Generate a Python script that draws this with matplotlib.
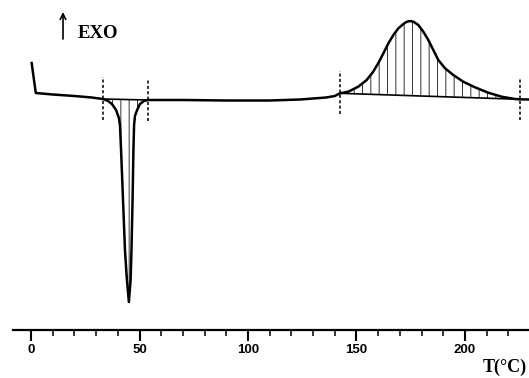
import numpy as np
import matplotlib
matplotlib.use("agg")
import matplotlib.pyplot as plt
from matplotlib.ticker import MultipleLocator

# DSC trace (temperature in °C, heat flow in arbitrary units, exo up)
temp = [0.3, 2.2, 10, 20, 28, 33.2,
        35.5, 37.3, 39.2, 40.5, 41.0, 41.5, 42.4, 43.3, 44.2, 45.1,
        45.9, 46.3, 46.8, 47.2, 47.5, 47.9, 48.9, 50.2, 52.1, 53.9,
        70, 90, 110, 124, 136, 140,
        142.4, 146.2, 150.8, 154.7, 157.7, 160.0, 162.4, 164.7, 167.0, 169.3,
        171.6, 172.8, 174.0, 175.4, 176.6, 178.5, 180.8, 183.1, 185.4, 187.7,
        190.8, 194.6, 199.2, 204.6, 210.7, 216.9, 223.0, 225.3, 229.5]
heat_flow = [37, 7, 5.5, 4, 2.5, 1,
             -1, -4, -10, -18, -25, -50, -100, -150, -180, -202,
             -180, -150, -100, -50, -25, -16, -10, -4, -1, 0,
             0, -0.5, -0.5, 0.5, 2.5, 4,
             6.7, 8.3, 13.3, 20, 28.3, 36.7, 46.7, 56.7, 65, 71.7,
             76, 77.8, 78.8, 78.8, 77.8, 75, 68.3, 60, 50, 40,
             31.7, 25, 18.3, 12.7, 7.3, 3.3, 1, 0.7, 0.5]

# integration limits of the two peaks
endo_limits = (33.2, 53.9)
exo_limits = (142.4, 225.3)
x_ticks = [0, 50, 100, 150, 200]

temp = np.array(temp)
heat_flow = np.array(heat_flow)

plt.rcParams['hatch.linewidth'] = 0.7

fig = plt.figure(figsize=(5.29, 3.78), dpi=100)
ax = fig.add_axes([13 / 529, 48 / 378, 516 / 529, 330 / 378])
ax.set_xlim(-8.3, 229.5)
ax.set_ylim(-230, 100)

ax.plot(temp, heat_flow, color='black', lw=1.8, solid_joinstyle='round')

for lo, hi in (endo_limits, exo_limits):
    m = (temp >= lo) & (temp <= hi)
    ax.fill(temp[m], heat_flow[m], facecolor='none', edgecolor='0.2',
            linewidth=0, hatch='||')
    h = heat_flow[m]
    ax.plot([lo, hi], [h[0], h[-1]], color='black', lw=1.2)
    ax.vlines([lo, hi], [h[0] - 21, h[-1] - 21], [h[0] + 22, h[-1] + 21],
              colors='black', lw=1.1, linestyles=(0, (2, 1.5)))

for s in ('left', 'top', 'right'):
    ax.spines[s].set_visible(False)
ax.spines['bottom'].set_linewidth(1.6)
ax.set_yticks([])
ax.set_xticks(x_ticks)
ax.xaxis.set_minor_locator(MultipleLocator(10))
ax.tick_params(axis='x', which='major', direction='out', length=8, width=1.5, pad=2)
ax.tick_params(axis='x', which='minor', direction='out', length=4, width=1.1)
for lab in ax.get_xticklabels():
    lab.set_fontweight('bold')
    lab.set_fontsize(9.5)
    lab.set_family('Liberation Sans')

fig.text(527 / 529, 1 - 367 / 378, 'T(°C)', fontsize=13, fontweight='bold',
         family='Liberation Serif', ha='right', va='center')
fig.text(78 / 529, 1 - 33 / 378, 'EXO', fontsize=13.5, fontweight='bold',
         family='Liberation Serif', ha='left', va='center')
ax.annotate('', xy=(63 / 529, 1 - 12 / 378), xytext=(63 / 529, 1 - 39 / 378),
            xycoords='figure fraction', textcoords='figure fraction',
            arrowprops=dict(arrowstyle='->', lw=1.2, color='black',
                            mutation_scale=10, shrinkA=0, shrinkB=0))

fig.savefig('out.png', dpi=100)
